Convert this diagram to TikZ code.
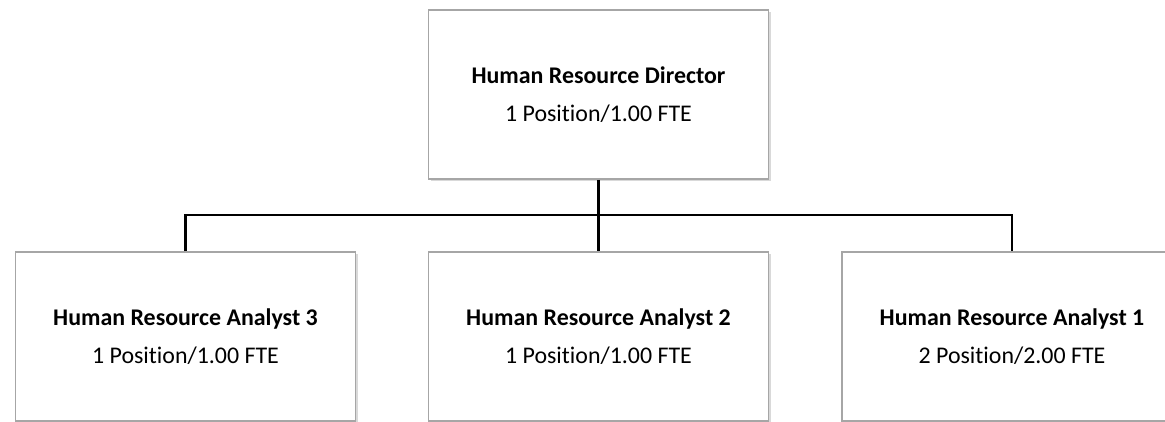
\documentclass[tikz,border=0pt]{standalone}
\usepackage{fontspec}
\setmainfont[Ligatures=NoCommon]{Carlito}
\usetikzlibrary{shadows}
\tikzset{
  orgbox/.style={draw=black!35, line width=1.6pt, fill=white,
    minimum width=340pt, minimum height=169pt, inner sep=0pt,
    align=center, font=\fontsize{23.9}{37.5}\selectfont,
    drop shadow={shadow xshift=2pt, shadow yshift=-2pt, fill=black!25, opacity=0.6}},
  link/.style={draw=black, line width=2.6pt}
}
\begin{document}
\begin{tikzpicture}[x=1pt,y=-1pt]
\useasboundingbox (0,0) rectangle (1165,422);
\clip (0,0) rectangle (1165,422);
\node[orgbox] (dir) at (598.5,94.5) {\textbf{Human Resource Director}\\1 Position/1.00 FTE};
\node[orgbox] (a3) at (185.5,336.5) {\textbf{Human Resource Analyst 3}\\1 Position/1.00 FTE};
\node[orgbox] (a2) at (598.5,336.5) {\textbf{Human Resource Analyst 2}\\1 Position/1.00 FTE};
\node[orgbox] (a1) at (1012,336.5) {\textbf{Human Resource Analyst 1}\\2 Position/2.00 FTE};
\coordinate (hb) at (598.5,215);
\draw[link] (dir.south) -- (a2.north);
\draw[link] (a3.north) |- (hb) -| (a1.north);
\end{tikzpicture}
\end{document}
